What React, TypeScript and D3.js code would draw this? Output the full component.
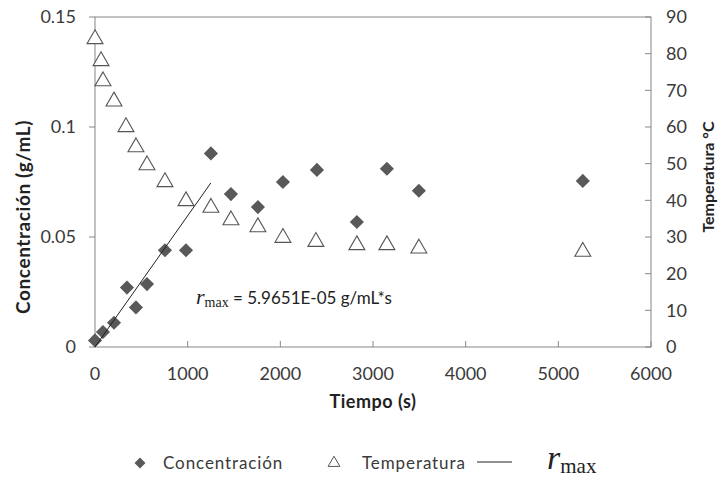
import React from 'react';
import * as d3 from 'd3';

// tiempo (s) for each sample
const concTime = [0, 86, 205, 345, 442, 561, 755, 982, 1251, 1467, 1758, 2028, 2395, 2826, 3150, 3495, 5264];
const concValues = [0.003, 0.0068, 0.011, 0.027, 0.018, 0.0286, 0.044, 0.044, 0.088, 0.0695, 0.0636, 0.075, 0.0805, 0.0568, 0.081, 0.071, 0.0755];

const tempTime = [0, 65, 86, 205, 334, 442, 561, 755, 982, 1251, 1467, 1758, 2028, 2384, 2826, 3150, 3495, 5264];
const tempValues = [84, 78, 72.5, 67, 60, 54.5, 49.6, 45, 39.8, 38, 34.6, 32.7, 29.8, 28.7, 27.8, 27.8, 26.9, 26];

const rmaxSlope = 5.9651e-5;
const rmaxRange = [0, 1250];

const xTicks = [0, 1000, 2000, 3000, 4000, 5000, 6000];
const leftTicks = [0, 0.05, 0.1, 0.15];
const leftTickLabels = ['0', '0.05', '0.1', '0.15'];
const rightTicks = [0, 10, 20, 30, 40, 50, 60, 70, 80, 90];

const W = 719;
const H = 478;
const font = 'Lato, "Open Sans", sans-serif';
const serif = '"Liberation Serif", "DejaVu Serif", serif';
const axisColor = '#868686';
const textColor = '#3a3a3a';

const App = () => {
  const x = d3.scaleLinear().domain([0, 6000]).range([95, 651]);
  const yL = d3.scaleLinear().domain([0, 0.15]).range([347, 17]);
  const yR = d3.scaleLinear().domain([0, 90]).range([347, 17]);

  const diamond = d3.symbol(d3.symbolSquare, 100)();
  const triangle = d3.symbol(d3.symbolTriangle, 110)();

  const line = d3.line<number>()
    .x(t => x(t))
    .y(t => yL(rmaxSlope * t));

  const [x0, x1] = x.range();
  const [y0, y1] = yL.range();

  return (
    <div style={{ position: 'absolute', left: 0, top: 0 }}>
      <svg width={W} height={H} style={{ display: 'block', background: '#fff' }}>
        {/* plot frame */}
        <rect x={x0} y={y1} width={x1 - x0} height={y0 - y1} fill="none" stroke={axisColor} strokeWidth={1} />

        {/* x ticks (inside) */}
        {xTicks.map(t => (
          <g key={'xt' + t}>
            <line x1={x(t)} x2={x(t)} y1={y0} y2={y0 - 6} stroke={axisColor} />
            <text x={x(t)} y={y0 + 33} textAnchor="middle" fontFamily={font} fontSize={18} fill={textColor}>{t}</text>
          </g>
        ))}

        {/* left ticks (outside) */}
        {leftTicks.map((t, i) => (
          <g key={'lt' + t}>
            <line x1={x0 - 6} x2={x0} y1={yL(t)} y2={yL(t)} stroke={axisColor} />
            <text x={x0 - 19} y={yL(t)} dy="0.35em" textAnchor="end" fontFamily={font} fontSize={18} fill={textColor}>{leftTickLabels[i]}</text>
          </g>
        ))}

        {/* right ticks (inside) */}
        {rightTicks.map(t => (
          <g key={'rt' + t}>
            <line x1={x1 - 6} x2={x1} y1={yR(t)} y2={yR(t)} stroke={axisColor} />
            <text x={x1 + 15} y={yR(t)} dy="0.35em" textAnchor="start" fontFamily={font} fontSize={18} fill={textColor}>{t}</text>
          </g>
        ))}

        {/* axis titles */}
        <text transform="translate(30,217) rotate(-90)" textAnchor="middle" fontFamily={font} fontWeight="bold" fontSize={19} letterSpacing={0.6} fill="#222">Concentración  (g/mL)</text>
        <text transform="translate(714,177) rotate(-90)" textAnchor="middle" fontFamily={font} fontWeight="bold" fontSize={16} fill="#222">Temperatura °C</text>
        <text x={373} y={408} textAnchor="middle" fontFamily={font} fontWeight="bold" fontSize={18} letterSpacing={0.5} fill="#222">Tiempo (s)</text>

        {/* temperature */}
        {tempTime.map((t, i) => (
          <path key={'tp' + i} d={triangle} transform={`translate(${x(t)},${yR(tempValues[i])})`} fill="#fff" stroke="#555" strokeWidth={1.1} />
        ))}

        {/* concentration */}
        {concTime.map((t, i) => (
          <path key={'cp' + i} d={diamond} transform={`translate(${x(t)},${yL(concValues[i])}) rotate(45)`} fill="#595959" />
        ))}

        {/* r max trend */}
        <path d={line(rmaxRange) || ''} fill="none" stroke="#222" strokeWidth={1} />

        <text x={196} y={304} fontFamily={font} fontSize={17} fill="#222">
          <tspan fontFamily={serif} fontStyle="italic" fontSize={22}>r</tspan>
          <tspan fontFamily={serif} fontSize={14} dy={3}>max</tspan>
          <tspan dy={-3}> = 5.9651E-05 g/mL*s</tspan>
        </text>

        {/* legend */}
        <path d={d3.symbol(d3.symbolSquare, 60)()} transform="translate(140,463) rotate(45)" fill="#595959" />
        <text x={163} y={469} fontFamily={font} fontSize={17} letterSpacing={0.9} fill={textColor}>Concentración</text>
        <path d={d3.symbol(d3.symbolTriangle, 60)()} transform="translate(334,463)" fill="#fff" stroke="#555" />
        <text x={362} y={469} fontFamily={font} fontSize={17} letterSpacing={0.9} fill={textColor}>Temperatura</text>
        <line x1={477} x2={512} y1={462} y2={462} stroke="#222" />
        <text x={547} y={469} fontFamily={serif} fill="#222">
          <tspan fontStyle="italic" fontSize={34}>r</tspan>
          <tspan fontSize={21} dy={4}>max</tspan>
        </text>
      </svg>
    </div>
  );
};

export default App;
